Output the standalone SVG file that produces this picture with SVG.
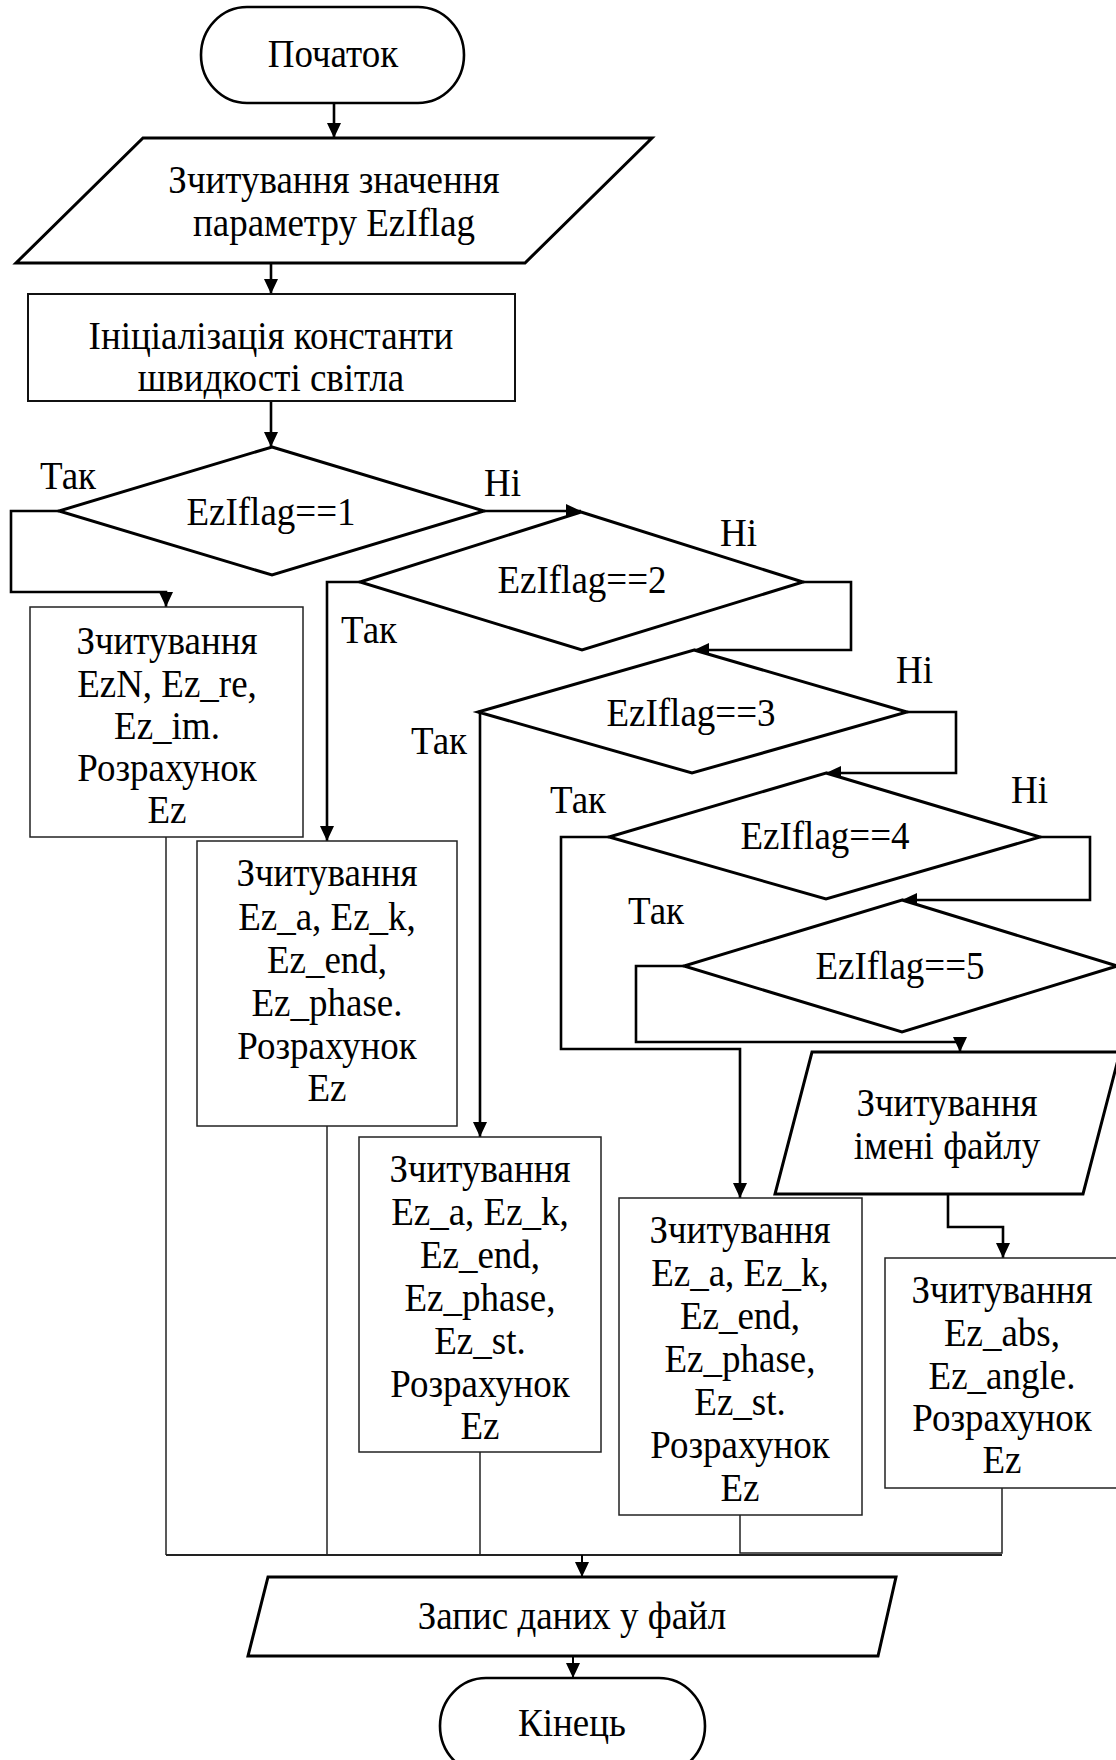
<svg xmlns="http://www.w3.org/2000/svg" width="1116" height="1760" viewBox="0 0 1116 1760">
<defs>
<marker id="ah" markerUnits="userSpaceOnUse" markerWidth="16" markerHeight="16" refX="15" refY="7" orient="auto">
<path d="M0,0 L15,7 L0,14 z" fill="#000"/>
</marker>
<style>
text{font-family:"Liberation Serif","Times New Roman",serif;font-size:37px;fill:#000;transform-box:fill-box;transform-origin:center;transform:scaleY(1.07)}
.c{text-anchor:middle}
.sh{fill:#fff;stroke:#000;stroke-width:3}
.bx{fill:#fff;stroke:#222;stroke-width:1.5}
.rc{fill:#fff;stroke:#111;stroke-width:2}
.cn{fill:none;stroke:#000;stroke-width:2.6}
.ar{marker-end:url(#ah)}
.tn{fill:none;stroke:#222;stroke-width:1.5}
</style>
</defs>
<rect width="1116" height="1760" fill="#fff"/>

<g id="connectors">
<path class="cn ar" d="M334,103 V138"/>
<path class="cn ar" d="M271,263 V294"/>
<path class="cn ar" d="M271,401 V447"/>
<path class="cn ar" d="M484,511 H581"/>
<path class="cn ar" d="M59,511 H11 V592 H166 V607"/>
<path class="cn ar" d="M360,582 H327 V841"/>
<path class="cn ar" d="M803,582 H851 V650 H694"/>
<path class="cn ar" d="M478,712 H480 V1137"/>
<path class="cn ar" d="M907,712 H956 V773 H826"/>
<path class="cn ar" d="M609,837 H561 V1049 H740 V1198"/>
<path class="cn ar" d="M1040,837 H1090 V900 H902"/>
<path class="cn ar" d="M684,966 H636 V1042 H960 V1052"/>
<path class="cn ar" d="M948,1194 V1227 H1003 V1258"/>
<path class="tn" d="M166,837 V1555"/>
<path class="tn" d="M327,1126 V1555"/>
<path class="tn" d="M480,1452 V1555"/>
<path class="tn" d="M740,1515 V1553 H1002 V1488"/>
<path class="tn" style="stroke-width:2.2" d="M166,1555 H1002"/>
<path class="cn ar" style="stroke-width:2" d="M582,1555 V1577"/>
<path class="cn ar" style="stroke-width:2" d="M573,1656 V1678"/>
</g>

<g id="start">
<rect class="sh" style="stroke-width:2.6" x="201" y="7" width="263" height="96" rx="46" ry="48"/>
<text class="c" x="333" y="66">Початок</text>
</g>

<g id="read-flag">
<polygon class="sh" points="143,138 652,138 525,263 16,263"/>
<text class="c" x="334" y="192">Зчитування значення</text>
<text class="c" x="334" y="235">параметру EzIflag</text>
</g>

<g id="init-const">
<rect class="rc" x="28" y="294" width="487" height="107"/>
<text class="c" x="271" y="348">Ініціалізація константи</text>
<text class="c" x="271" y="390">швидкості світла</text>
</g>

<g id="dec1">
<polygon class="sh" points="272,447 484,511 272,575 59,511"/>
<text class="c" x="271" y="524">EzIflag==1</text>
<text x="40" y="488">Так</text>
<text x="484" y="495">Ні</text>
</g>

<g id="dec2">
<polygon class="sh" points="581,512 803,582 582,650 360,582"/>
<text class="c" x="582" y="592">EzIflag==2</text>
<text x="341" y="642">Так</text>
<text x="720" y="545">Ні</text>
</g>

<g id="dec3">
<polygon class="sh" points="694,650 907,712 692,773 478,712"/>
<text class="c" x="691" y="725">EzIflag==3</text>
<text x="411" y="753">Так</text>
<text x="896" y="682">Ні</text>
</g>

<g id="dec4">
<polygon class="sh" points="826,773 1040,837 826,899 609,837"/>
<text class="c" x="825" y="848">EzIflag==4</text>
<text x="550" y="812">Так</text>
<text x="1011" y="802">Ні</text>
</g>

<g id="dec5">
<polygon class="sh" points="902,900 1117,966 902,1032 684,966"/>
<text class="c" x="900" y="978">EzIflag==5</text>
<text x="628" y="923">Так</text>
</g>

<g id="box1">
<rect class="bx" x="30" y="607" width="273" height="230"/>
<text class="c" x="167" y="653">Зчитування</text>
<text class="c" x="167" y="696">EzN, Ez_re,</text>
<text class="c" x="167" y="738">Ez_im.</text>
<text class="c" x="167" y="780">Розрахунок</text>
<text class="c" x="167" y="822">Ez</text>
</g>

<g id="box2">
<rect class="bx" x="197" y="841" width="260" height="285"/>
<text class="c" x="327" y="885">Зчитування</text>
<text class="c" x="327" y="929">Ez_a, Ez_k,</text>
<text class="c" x="327" y="972">Ez_end,</text>
<text class="c" x="327" y="1015">Ez_phase.</text>
<text class="c" x="327" y="1058">Розрахунок</text>
<text class="c" x="327" y="1100">Ez</text>
</g>

<g id="box3">
<rect class="bx" x="359" y="1137" width="242" height="315"/>
<text class="c" x="480" y="1181">Зчитування</text>
<text class="c" x="480" y="1224">Ez_a, Ez_k,</text>
<text class="c" x="480" y="1267">Ez_end,</text>
<text class="c" x="480" y="1310">Ez_phase,</text>
<text class="c" x="480" y="1353">Ez_st.</text>
<text class="c" x="480" y="1396">Розрахунок</text>
<text class="c" x="480" y="1438">Ez</text>
</g>

<g id="read-filename">
<polygon class="sh" points="812,1052 1120,1052 1083,1194 775,1194"/>
<text class="c" x="947" y="1115">Зчитування</text>
<text class="c" x="947" y="1158">імені файлу</text>
</g>

<g id="box4">
<rect class="bx" x="619" y="1198" width="243" height="317"/>
<text class="c" x="740" y="1242">Зчитування</text>
<text class="c" x="740" y="1285">Ez_a, Ez_k,</text>
<text class="c" x="740" y="1328">Ez_end,</text>
<text class="c" x="740" y="1371">Ez_phase,</text>
<text class="c" x="740" y="1414">Ez_st.</text>
<text class="c" x="740" y="1457">Розрахунок</text>
<text class="c" x="740" y="1500">Ez</text>
</g>

<g id="box5">
<rect class="bx" x="885" y="1258" width="234" height="230"/>
<text class="c" x="1002" y="1302">Зчитування</text>
<text class="c" x="1002" y="1345">Ez_abs,</text>
<text class="c" x="1002" y="1388">Ez_angle.</text>
<text class="c" x="1002" y="1430">Розрахунок</text>
<text class="c" x="1002" y="1472">Ez</text>
</g>

<g id="write-file">
<polygon class="sh" points="268,1577 896,1577 878,1656 248,1656"/>
<text class="c" x="572" y="1628">Запис даних у файл</text>
</g>

<g id="end">
<rect class="sh" style="stroke-width:2.6" x="440" y="1678" width="265" height="96" rx="46" ry="48"/>
<text class="c" x="572" y="1735">Кінець</text>
</g>
</svg>
